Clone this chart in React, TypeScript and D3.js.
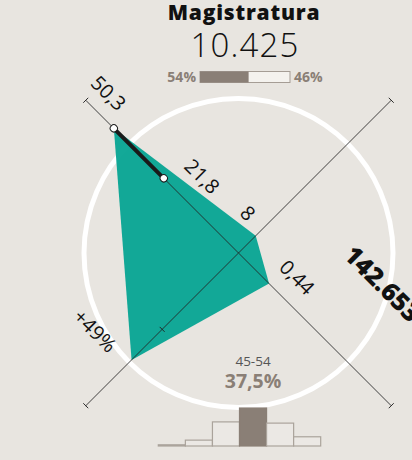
import React from "react";
import * as d3 from "d3";

// header
const title = "Magistratura";
const total = 10425;
const sideTotal = 142653;
const genderShares = [54, 46];

// radar axes (clockwise from top-left)
const axisValues = [50.3, 8, 0.44, 49];
const axisLabels = ["50,3", "8", "0,44", "+49%"];
const axisDomains: [number, number][] = [
  [-20.8, 66.3],
  [0, 71],
  [0, 2.2],
  [0, 70],
];
const refValue = 21.8; // second marker on the first axis
const refLabel = "21,8";
const tickValue = 35; // reference tick on the last axis

// age histogram
const ageGroups = ["<25", "25-34", "35-44", "45-54", "55-64", "65+"];
const ageShares = [1.2, 5.8, 23.8, 37.5, 22.6, 9.1];
const selectedAge = "45-54";

const W = 412;
const H = 460;
const CX = 238.5;
const CY = 253;
const R_AXIS = 216;
const R_RING = 154.5;
const BG = "#e8e5e0";
const TEAL = "#06a492";
const BROWN = "#8a7f76";
const FONT = "'Open Sans', Lato, sans-serif";

// in the group rotated by 45deg: top-left, top-right, bottom-right, bottom-left
const axisAngles = [-Math.PI / 2, 0, Math.PI / 2, Math.PI];

// label placement relative to the value point, in the rotated frame
const labelLayout = [
  { dx: -9, dy: -14, anchor: "end" },
  { dx: -21.6, dy: -3.3, anchor: "middle" },
  { dx: 15.3, dy: -17, anchor: "middle" },
  { dx: -21, dy: 12.5, anchor: "end" },
];

const locale = d3.formatLocale({
  decimal: ",",
  thousands: ".",
  grouping: [3],
  currency: ["", "€"],
});
const fmtInt = locale.format(",d");
const fmtPct = locale.format(".1f");

export default function App() {
  const scales = axisDomains.map((dom) =>
    d3.scaleLinear().domain(dom).range([0, R_AXIS])
  );
  const pt = (i: number, v: number) =>
    d3.pointRadial(axisAngles[i], scales[i](v)) as [number, number];

  const radar = d3
    .lineRadial<number>()
    .angle((_, i) => axisAngles[i])
    .radius((v, i) => scales[i](v))
    .curve(d3.curveLinearClosed);

  const top = pt(0, axisValues[0]);
  const ref = pt(0, refValue);
  const tick = pt(3, tickValue);

  // header bar
  const gx = d3.scaleLinear().domain([0, 100]).range([200, 290]);

  // histogram
  const hx = d3.scaleBand<string>().domain(ageGroups).range([158.3, 320.7]);
  const hy = d3.scaleLinear().domain([0, 40]).range([446, 405.5]);
  const selIdx = ageGroups.indexOf(selectedAge);
  const selX = (hx(selectedAge) ?? 0) + hx.bandwidth() / 2;

  const axisEnds = axisAngles.map((a) => d3.pointRadial(a, R_AXIS));

  return (
    <div style={{ position: "fixed", inset: 0, background: BG }}>
      <svg width={W} height={H} style={{ display: "block" }} fontFamily={FONT}>
        <rect width={W} height={H} fill={BG} />

        {/* header */}
        <text x={244} y={19.5} textAnchor="middle" fontSize={21} fontWeight={800} letterSpacing={0.8} fill="#111">
          {title}
        </text>
        <text x={245} y={57} textAnchor="middle" fontSize={33} fontWeight={300} letterSpacing={1.2} fill="#111">
          {fmtInt(total)}
        </text>
        <rect x={gx(0)} y={71.5} width={gx(100) - gx(0)} height={11} fill="#f4f2ee" stroke="#a59d95" strokeWidth={1} />
        <rect x={gx(0)} y={71.5} width={gx(genderShares[0]) - gx(0)} height={11} fill={BROWN} />
        <text x={gx(0) - 4} y={82} textAnchor="end" fontSize={14} fontWeight={700} fill={BROWN}>
          {genderShares[0]}%
        </text>
        <text x={gx(100) + 4} y={82} textAnchor="start" fontSize={14} fontWeight={700} fill={BROWN}>
          {genderShares[1]}%
        </text>

        {/* radar */}
        <g transform={`translate(${CX},${CY}) rotate(45)`}>
          <circle r={R_RING} fill="none" stroke="#fff" strokeWidth={5} />
          <path d={radar(axisValues) ?? ""} fill={TEAL} fillOpacity={0.95} />
          {axisEnds.map(([x, y], i) => (
            <g key={i}>
              <line x1={0} y1={0} x2={x} y2={y} stroke="#222" strokeWidth={0.8} />
              {i % 2 === 0 ? (
                <line x1={x} y1={-3.5} x2={x} y2={3.5} stroke="#222" strokeWidth={0.9} />
              ) : (
                <line x1={-3.5} y1={y} x2={3.5} y2={y} stroke="#222" strokeWidth={0.9} />
              )}
            </g>
          ))}
          <line x1={-3.5} y1={tick[1]} x2={3.5} y2={tick[1]} stroke="#222" strokeWidth={0.9} />
          <line x1={top[0]} y1={top[1]} x2={ref[0]} y2={ref[1]} stroke="#1a1a1a" strokeWidth={4} />
          <circle cx={top[0]} cy={top[1]} r={3.6} fill="#fff" stroke="#1a1a1a" strokeWidth={1} />
          <circle cx={ref[0]} cy={ref[1]} r={3.6} fill="#fff" stroke="#1a1a1a" strokeWidth={1} />

          {axisValues.map((v, i) => {
            const [x, y] = pt(i, v);
            const l = labelLayout[i];
            return (
              <text
                key={i}
                x={x + l.dx}
                y={y + l.dy}
                textAnchor={l.anchor}
                fontSize={20}
                fill="#111"
              >
                {axisLabels[i]}
              </text>
            );
          })}
          <text x={ref[0] + 6} y={ref[1] - 21.3} textAnchor="start" fontSize={20} fill="#111">
            {refLabel}
          </text>
          <text x={76} y={-71} textAnchor="start" fontSize={25} fontWeight={800} fill="#111">
            {fmtInt(sideTotal)}
          </text>
        </g>

        {/* selected age */}
        <text x={selX} y={366} textAnchor="middle" fontSize={13.5} fill="#555">
          {selectedAge}
        </text>
        <text x={selX} y={388} textAnchor="middle" fontSize={19.5} fontWeight={700} fill={BROWN}>
          {fmtPct(ageShares[selIdx])}%
        </text>

        {/* histogram */}
        {ageGroups.map((g, i) => (
          <rect
            key={g}
            x={hx(g)}
            y={hy(ageShares[i])}
            width={hx.bandwidth()}
            height={hy(0) - hy(ageShares[i])}
            fill={i === selIdx ? BROWN : "#ebe8e4"}
            stroke={i === selIdx ? BROWN : "#aaa39b"}
            strokeWidth={1.2}
          />
        ))}
      </svg>
    </div>
  );
}
